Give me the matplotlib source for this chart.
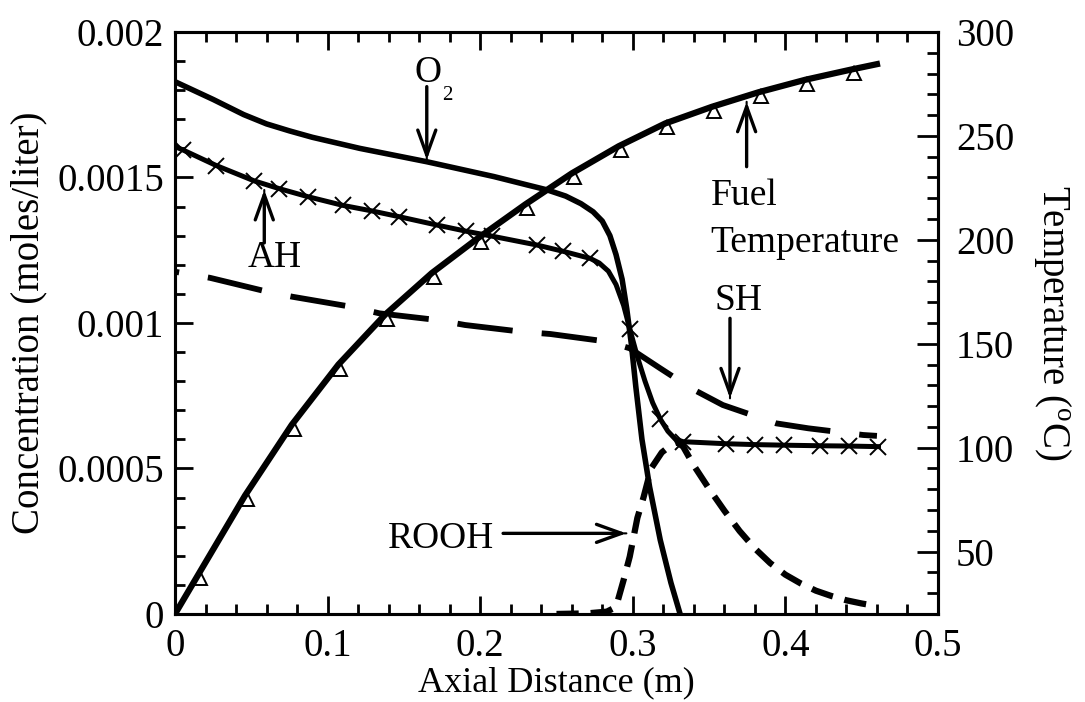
import matplotlib.pyplot as plt
from matplotlib import transforms
from matplotlib.ticker import MultipleLocator, FuncFormatter

plt.rcParams['font.family'] = ['Liberation Serif', 'DejaVu Serif']
plt.rcParams['mathtext.fontset'] = 'custom'
plt.rcParams['mathtext.rm'] = 'Liberation Serif'
plt.rcParams['lines.scale_dashes'] = False

# ── Concentration profiles (moles/liter) vs axial distance (m) ────────────────
o2_x = [0.0, 0.025, 0.045, 0.060, 0.075, 0.090, 0.121, 0.165, 0.209, 0.231,
        0.244, 0.256, 0.266, 0.274, 0.280, 0.285, 0.289, 0.293, 0.296, 0.299,
        0.302, 0.306, 0.311, 0.318, 0.325, 0.331]
o2_c = [1.829e-3, 1.768e-3, 1.716e-3, 1.684e-3, 1.660e-3, 1.638e-3, 1.600e-3,
        1.554e-3, 1.503e-3, 1.474e-3, 1.457e-3, 1.436e-3, 1.410e-3, 1.382e-3,
        1.350e-3, 1.300e-3, 1.235e-3, 1.150e-3, 1.050e-3, 0.930e-3, 0.780e-3,
        0.600e-3, 0.437e-3, 0.254e-3, 0.107e-3, 0.0]

ah_x = [0.0, 0.005, 0.027, 0.052, 0.068, 0.087, 0.110, 0.129, 0.147, 0.172,
        0.191, 0.208, 0.237, 0.2545, 0.272, 0.278, 0.284, 0.289, 0.294, 0.298,
        0.303, 0.308, 0.313, 0.318, 0.323, 0.328, 0.333, 0.361, 0.380, 0.399,
        0.423, 0.442, 0.461]
ah_c = [1.606e-3, 1.595e-3, 1.541e-3, 1.488e-3, 1.462e-3, 1.434e-3, 1.404e-3,
        1.385e-3, 1.365e-3, 1.336e-3, 1.315e-3, 1.298e-3, 1.268e-3, 1.246e-3,
        1.222e-3, 1.206e-3, 1.178e-3, 1.132e-3, 1.060e-3, 0.980e-3, 0.884e-3,
        0.800e-3, 0.726e-3, 0.670e-3, 0.628e-3, 0.600e-3, 0.592e-3, 0.585e-3,
        0.582e-3, 0.580e-3, 0.578e-3, 0.577e-3, 0.575e-3]
# points of the AH series that carry an "x" symbol
ah_marks = [1, 2, 3, 4, 5, 6, 7, 8, 9, 10, 11, 12, 13, 14, 19, 23,
            26, 27, 28, 29, 30, 31, 32]

sh_x = [0.0, 0.023, 0.060, 0.077, 0.115, 0.134, 0.172, 0.190, 0.227, 0.246,
        0.283, 0.298, 0.318, 0.338, 0.359, 0.394, 0.415, 0.451, 0.460]
sh_c = [1.176e-3, 1.155e-3, 1.108e-3, 1.090e-3, 1.056e-3, 1.033e-3, 1.010e-3,
        0.993e-3, 0.970e-3, 0.962e-3, 0.936e-3, 0.913e-3, 0.844e-3, 0.776e-3,
        0.718e-3, 0.655e-3, 0.638e-3, 0.615e-3, 0.612e-3]

rooh_x = [0.250, 0.270, 0.283, 0.289, 0.294, 0.298, 0.303, 0.307, 0.312,
          0.319, 0.325, 0.329, 0.333, 0.340, 0.350, 0.360, 0.370, 0.380,
          0.390, 0.400, 0.410, 0.420, 0.430, 0.440, 0.450, 0.460]
rooh_c = [0.0, 0.002e-3, 0.008e-3, 0.024e-3, 0.117e-3, 0.197e-3, 0.330e-3,
          0.400e-3, 0.500e-3, 0.555e-3, 0.580e-3, 0.590e-3, 0.575e-3,
          0.510e-3, 0.430e-3, 0.355e-3, 0.285e-3, 0.225e-3, 0.175e-3,
          0.135e-3, 0.105e-3, 0.080e-3, 0.062e-3, 0.047e-3, 0.036e-3,
          0.027e-3]

# ── Fuel temperature (deg C) ──────────────────────────────────────────────────
temp_x = [0.0, 0.0153, 0.0459, 0.0765, 0.1071, 0.1377, 0.1683, 0.1989,
          0.2295, 0.2601, 0.2907, 0.3213, 0.3519, 0.3825, 0.4131, 0.4437,
          0.460]
temp_t = [20, 39, 77, 111, 140, 164, 184, 201, 217, 232, 245, 256, 264,
          271, 277, 282, 284.5]

# ── Figure ────────────────────────────────────────────────────────────────────
fig = plt.figure(figsize=(10.85, 7.02), dpi=100)
ax = fig.add_axes([0.1613, 0.1254, 0.7032, 0.8291])
ax2 = ax.twinx()

ax.plot(o2_x, o2_c, color='k', lw=4.0, solid_joinstyle='round')
ax.plot(ah_x, ah_c, color='k', lw=3.6, marker='x', ms=12, mew=1.4,
        markevery=ah_marks, solid_joinstyle='round')
ax.plot(sh_x, sh_c, color='k', lw=4.2, linestyle=(37, (40, 21)),
        dash_capstyle='butt')
ax.plot(rooh_x, rooh_c, color='k', lw=4.5, linestyle=(0, (16, 8.6)),
        dash_capstyle='butt')

# triangles sit just under the temperature line
tri_tr = transforms.offset_copy(ax2.transData, fig=fig, x=2, y=-4,
                                units='dots')
ax2.plot(temp_x[1:-1], temp_t[1:-1], ls='none', marker='^', ms=10.5,
         mfc='white', mec='k', mew=1.4, transform=tri_tr, zorder=2)
ax2.plot(temp_x, temp_t, color='k', lw=4.5, zorder=3,
         solid_joinstyle='round')

# ── Axes, ticks ───────────────────────────────────────────────────────────────
ax.set_xlim(0, 0.5)
ax.set_ylim(0, 0.002)
ax2.set_ylim(20, 300)

ax.xaxis.set_major_locator(MultipleLocator(0.1))
ax.xaxis.set_minor_locator(MultipleLocator(0.02))
ax.yaxis.set_major_locator(MultipleLocator(0.0005))
ax.yaxis.set_minor_locator(MultipleLocator(0.0001))
ax2.yaxis.set_major_locator(MultipleLocator(50))
ax2.yaxis.set_minor_locator(MultipleLocator(10))

fmt = FuncFormatter(lambda v, p: f'{v:g}')
ax.xaxis.set_major_formatter(fmt)
ax.yaxis.set_major_formatter(fmt)
ax2.yaxis.set_major_formatter(FuncFormatter(lambda v, p: f'{v:.0f}'))

for a in (ax, ax2):
    for s in a.spines.values():
        s.set_linewidth(2.2)

ax.tick_params(which='both', direction='in', top=True, right=False,
               width=2, labelsize=28)
ax.tick_params(which='major', length=13)
ax.tick_params(which='minor', length=7)
ax.tick_params(axis='y', pad=8)
ax.tick_params(axis='x', pad=10)
ax2.tick_params(which='both', direction='in', left=False, right=True,
                width=2, labelsize=28, pad=13)
ax2.tick_params(which='major', length=15)
ax2.tick_params(which='minor', length=8)

ax.set_xlabel('Axial Distance (m)', fontsize=26, labelpad=1)
ax.set_ylabel('Concentration (moles/liter)', fontsize=28, labelpad=7)
ax2.set_ylabel(r'Temperature ($^{\rm o}$C)', fontsize=28, rotation=-90,
               va='bottom', labelpad=12)

# ── Labels and arrows ─────────────────────────────────────────────────────────
label_fs = 27


def pointer(tip, tail):
    # thin shaft plus a heavier head near the tip
    ax.annotate('', xy=tip, xytext=tail,
                arrowprops=dict(arrowstyle='-', lw=1.5, color='k',
                                shrinkA=0, shrinkB=0))
    ax.annotate('', xy=tip, xytext=tail,
                arrowprops=dict(arrowstyle='->,head_length=1.8,head_width=0.65',
                                lw=2.4, color='k', mutation_scale=10,
                                shrinkA=0, shrinkB=0,
                                patchA=None, patchB=None),
                annotation_clip=False)


ax.text(0.166, 1.829e-3, 'O', fontsize=label_fs, ha='center', va='baseline')
ax.text(0.1748, 1.766e-3, '2', fontsize=15, ha='left', va='baseline')
pointer((0.165, 1.560e-3), (0.165, 1.812e-3))

ax.text(0.065, 1.1935e-3, 'AH', fontsize=label_fs, ha='center', va='baseline')
pointer((0.0585, 1.457e-3), (0.0585, 1.275e-3))

ax.text(0.351, 1.4055e-3, 'Fuel', fontsize=label_fs, ha='left', va='baseline')
ax.text(0.351, 1.245e-3, 'Temperature', fontsize=label_fs, ha='left',
        va='baseline')
pointer((0.3746, 1.760e-3), (0.3746, 1.537e-3))

ax.text(0.369, 1.045e-3, 'SH', fontsize=label_fs, ha='center', va='baseline')
pointer((0.3637, 0.741e-3), (0.3637, 1.016e-3))

ax.text(0.1746, 0.2258e-3, 'ROOH', fontsize=label_fs, ha='center',
        va='baseline')
pointer((0.2958, 0.277e-3), (0.215, 0.277e-3))

fig.savefig('out.png', dpi=100)
